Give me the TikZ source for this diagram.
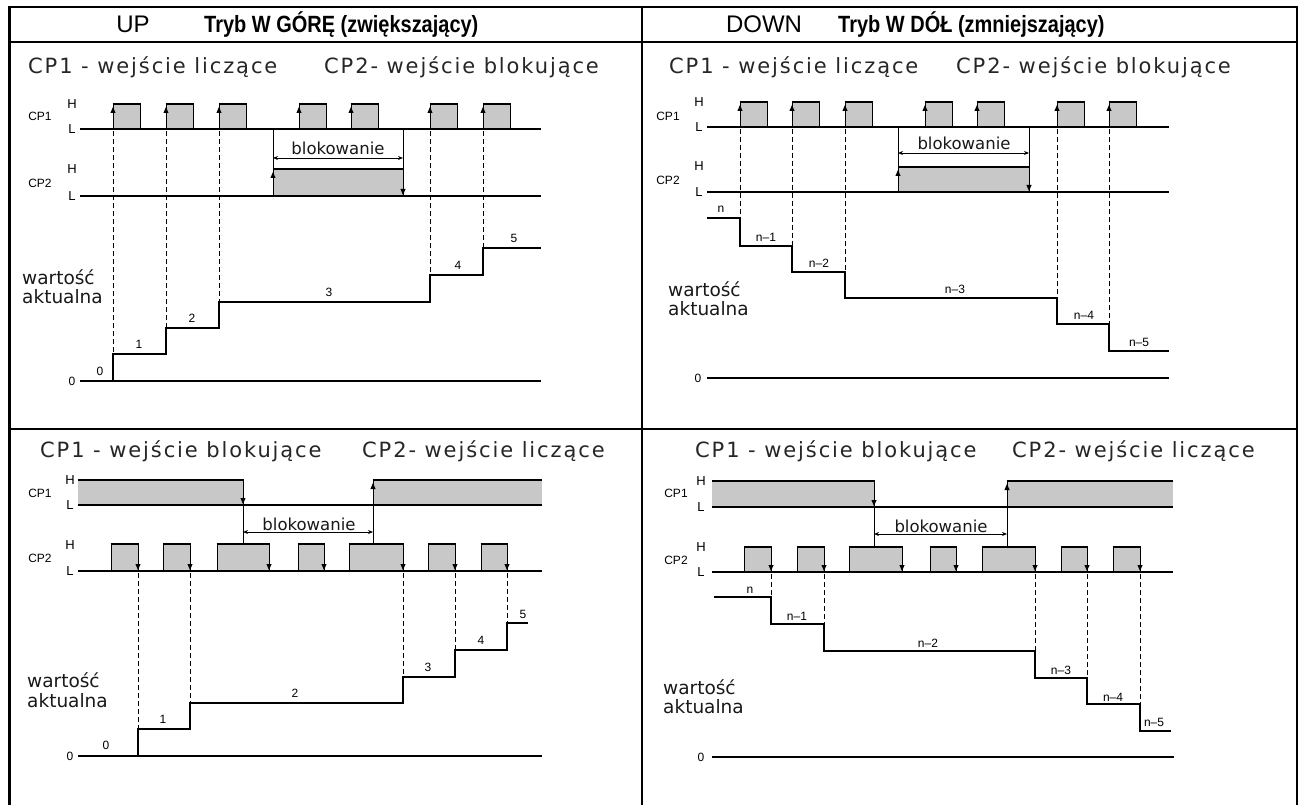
\documentclass[tikz,border=0pt]{standalone}
\usepackage{fontspec}
\setmainfont{Liberation Sans}
\newfontfamily\cpfont[LetterSpace=9]{DejaVu Sans}
\newfontfamily\djvfont{DejaVu Sans}
\usetikzlibrary{arrows.meta}
\definecolor{pulsefill}{RGB}{200,200,200}
\newcommand\uparr[2]{\fill ({#1},{#2}) -- ({#1-2.6},{#2+6}) -- ({#1+2.6},{#2+6}) -- cycle;}
\newcommand\dnarr[2]{\fill ({#1},{#2}) -- ({#1-2.6},{#2-6}) -- ({#1+2.6},{#2-6}) -- cycle;}
\newcommand\pulseR[4]{%
  \fill[pulsefill] ({#1},{#4}) rectangle ({#2},{#3});
  \draw[edgeln] ({#1},{#4}) -- ({#1},{#3}) ({#2},{#3}) -- ({#2},{#4});
  \draw[hiln] ({#1-0.5},{#3}) -- ({#2+0.5},{#3});
  \uparr{#1}{#3+3}}
\newcommand\pulseF[4]{%
  \fill[pulsefill] ({#1},{#4}) rectangle ({#2},{#3});
  \draw[edgeln] ({#1},{#4}) -- ({#1},{#3}) ({#2},{#3}) -- ({#2},{#4});
  \draw[hiln] ({#1-0.5},{#3}) -- ({#2+0.5},{#3});
  \dnarr{#2}{#4-1}}
\begin{document}
\begin{tikzpicture}[x=1pt,y=-1pt,
  framel/.style={line width=2pt},
  baseln/.style={line width=1.2pt},
  edgeln/.style={line width=1pt},
  hiln/.style={line width=2.8pt},
  stair/.style={line width=2.6pt},
  dashln/.style={line width=0.9pt, dash pattern=on 5pt off 3pt},
  blkarr/.style={line width=0.9pt, {Stealth[length=5pt,width=4pt]}-{Stealth[length=5pt,width=4pt]}},
  hdr/.style={font=\fontsize{24}{26}\selectfont, inner sep=0pt},
  ttl/.style={font=\fontsize{23.5}{26}\selectfont\bfseries, inner sep=0pt},
  cpt/.style={font=\cpfont\fontsize{21}{24}\selectfont, text=black!85, inner sep=0pt},
  val/.style={font=\djvfont\fontsize{18.5}{20}\selectfont, text=black!90, inner sep=0pt, anchor=west},
  blkt/.style={font=\djvfont\fontsize{16.5}{18}\selectfont, text=black!90, inner sep=0pt},
  lbl/.style={font=\fontsize{12}{12}\selectfont, inner sep=0pt},
  hl/.style={font=\fontsize{13}{13}\selectfont, inner sep=0pt},
]
\useasboundingbox (0,0) rectangle (1302,805);
\fill[white] (0,0) rectangle (1302,805);
% ---------- frame ----------
\draw[line width=3pt] (9,805) -- (9,7);
\draw[framel] (8,7) -- (1297,7) -- (1297,805);
\draw[framel] (9,42) -- (1297,42);
\draw[framel] (642,7) -- (642,805);
\draw[framel] (9,429) -- (1297,429);
% ---------- headers ----------
\node[hdr, anchor=base] (tlup) at (133,33) {UP};
\node[ttl, anchor=base west] (tltitle) at (204,33) {\scalebox{0.85}[1]{Tryb W GÓRĘ (zwiększający)}};
\node[hdr, anchor=base] (trdown) at (764,33) {DOWN};
\node[ttl, anchor=base west] (trtitle) at (838,33) {\scalebox{0.85}[1]{Tryb W DÓŁ (zmniejszający)}};
% ---------- panel captions ----------
\node[cpt, anchor=base west] (tlc1) at (28,74) {CP1 - wejście liczące};
\node[cpt, anchor=base west] (tlc2) at (324,74) {CP2- wejście blokujące};
\node[cpt, anchor=base west] (trc1) at (669,74) {CP1 - wejście liczące};
\node[cpt, anchor=base west] (trc2) at (956,74) {CP2- wejście blokujące};
\node[cpt, anchor=base west] (blc1) at (40,457) {CP1 - wejście blokujące};
\node[cpt, anchor=base west] (blc2) at (362,457) {CP2- wejście liczące};
\node[cpt, anchor=base west] (brc1) at (695,457) {CP1 - wejście blokujące};
\node[cpt, anchor=base west] (brc2) at (1012,457) {CP2- wejście liczące};

% ================= TOP LEFT (UP) =================
\node[lbl] (tlcp1) at (40,116) {CP1};
\node[hl] (tlh1) at (72,104) {H};
\node[hl] (tll1) at (72,129) {L};
\foreach \a in {113,166,219,299,351,430,483} {\pulseR{\a}{\a+27}{104}{129}}
\draw[baseln] (80,129) -- (541,129);
\node[lbl] (tlcp2) at (40,183) {CP2};
\node[hl] (tlh2) at (72,169) {H};
\node[hl] (tll2) at (72,196) {L};
\fill[pulsefill] (273,196) rectangle (403,169);
\draw[edgeln] (273,129) -- (273,196) (403,129) -- (403,196);
\draw[hiln] (272.5,169) -- (403.5,169);
\uparr{273}{172}
\dnarr{403}{195}
\draw[blkarr] (273,158) -- (403,158);
\node[blkt] (tlblk) at (338,148) {blokowanie};
\draw[baseln] (80,196) -- (541,196);
\draw[dashln] (113,131) -- (113,354) (166,131) -- (166,328) (219,131) -- (219,302)
  (430,131) -- (430,275) (483,131) -- (483,248);
\draw[baseln] (80,381) -- (541,381);
\draw[stair] (113,381) -- (113,354) -- (166,354) -- (166,328) -- (219,328) -- (219,302)
  -- (430,302) -- (430,275) -- (483,275) -- (483,248) -- (541,248);
\node[lbl] (tlz) at (72,381) {0};
\node[lbl] (tlv0) at (100,371) {0};
\node[lbl] (tlv1) at (139,344) {1};
\node[lbl] (tlv2) at (192,318) {2};
\node[lbl] (tlv3) at (329,292) {3};
\node[lbl] (tlv4) at (458,265) {4};
\node[lbl] (tlv5) at (514,238) {5};
\node[val] (tlw) at (22,277) {wartość};
\node[val] (tla) at (22,297) {aktualna};

% ================= TOP RIGHT (DOWN) =================
\node[lbl] (trcp1) at (668,116) {CP1};
\node[hl] (trh1) at (699,102) {H};
\node[hl] (trl1) at (699,127) {L};
\foreach \a in {740,792,845,925,977,1057,1109} {\pulseR{\a}{\a+27}{102}{127}}
\draw[baseln] (707,127) -- (1169,127);
\node[lbl] (trcp2) at (668,180) {CP2};
\node[hl] (trh2) at (699,166) {H};
\node[hl] (trl2) at (699,192) {L};
\fill[pulsefill] (898,192) rectangle (1029,167);
\draw[edgeln] (898,127) -- (898,192) (1029,127) -- (1029,192);
\draw[hiln] (897.5,167) -- (1029.5,167);
\uparr{898}{170}
\dnarr{1029}{191}
\draw[blkarr] (898,153) -- (1029,153);
\node[blkt] (trblk) at (964,143) {blokowanie};
\draw[baseln] (707,192) -- (1169,192);
\draw[dashln] (740,129) -- (740,218) (792,129) -- (792,246) (845,129) -- (845,272)
  (1057,129) -- (1057,298) (1109,129) -- (1109,324);
\draw[baseln] (707,378) -- (1169,378);
\draw[stair] (707,218) -- (740,218) -- (740,246) -- (792,246) -- (792,272) -- (845,272)
  -- (845,298) -- (1057,298) -- (1057,324) -- (1109,324) -- (1109,351) -- (1169,351);
\node[lbl] (trz) at (698,378) {0};
\node[lbl] (trv0) at (721,209) {n};
\node[lbl] (trv1) at (766,237) {n–1};
\node[lbl] (trv2) at (819,263) {n–2};
\node[lbl] (trv3) at (955,289) {n–3};
\node[lbl] (trv4) at (1084,315) {n–4};
\node[lbl] (trv5) at (1139,342) {n–5};
\node[val] (trw) at (668,289) {wartość};
\node[val] (tra) at (668,309) {aktualna};

% ================= BOTTOM LEFT (UP) =================
\node[lbl] (blcp1) at (40,493) {CP1};
\node[hl] (blh1) at (70,480) {H};
\node[hl] (bll1) at (70,505) {L};
\fill[pulsefill] (78,505) rectangle (243,480);
\fill[pulsefill] (373,505) rectangle (542,480);
\draw[hiln] (78,480) -- (243.5,480);
\draw[hiln] (372.5,480) -- (542,480);
\draw[edgeln] (243,480) -- (243,544) (373,544) -- (373,480);
\dnarr{243}{504}
\uparr{373}{483}
\draw[baseln] (78,505) -- (542,505);
\draw[blkarr] (243,532) -- (373,532);
\node[blkt] (blblk) at (309,524) {blokowanie};
\node[lbl] (blcp2) at (40,558) {CP2};
\node[hl] (blh2) at (70,545) {H};
\node[hl] (bll2) at (70,571) {L};
\foreach \a/\b in {111/138,163/190,217/269,298/324,349/403,428/455,481/507} {\pulseF{\a}{\b}{544}{571}}
\draw[baseln] (78,571) -- (542,571);
\draw[dashln] (138,573) -- (138,729) (190,573) -- (190,703) (403,573) -- (403,677)
  (455,573) -- (455,650) (507,573) -- (507,623);
\draw[baseln] (78,756) -- (542,756);
\draw[stair] (138,756) -- (138,729) -- (190,729) -- (190,703) -- (403,703) -- (403,677)
  -- (455,677) -- (455,650) -- (507,650) -- (507,623) -- (528,623);
\node[lbl] (blz) at (70,756) {0};
\node[lbl] (blv0) at (106,745) {0};
\node[lbl] (blv1) at (163,719) {1};
\node[lbl] (blv2) at (295,693) {2};
\node[lbl] (blv3) at (428,667) {3};
\node[lbl] (blv4) at (481,640) {4};
\node[lbl] (blv5) at (523,614) {5};
\node[val] (blw) at (27,680) {wartość};
\node[val] (bla) at (27,701) {aktualna};

% ================= BOTTOM RIGHT (DOWN) =================
\node[lbl] (brcp1) at (676,493) {CP1};
\node[hl] (brh1) at (701,481) {H};
\node[hl] (brl1) at (701,507) {L};
\fill[pulsefill] (712,507) rectangle (874,481);
\fill[pulsefill] (1007,507) rectangle (1173,481);
\draw[hiln] (712,481) -- (874.5,481);
\draw[hiln] (1006.5,481) -- (1173,481);
\draw[edgeln] (874,481) -- (874,547) (1007,547) -- (1007,481);
\dnarr{874}{506}
\uparr{1007}{484}
\draw[baseln] (712,507) -- (1173,507);
\draw[blkarr] (874,534) -- (1007,534);
\node[blkt] (brblk) at (941,526) {blokowanie};
\node[lbl] (brcp2) at (676,560) {CP2};
\node[hl] (brh2) at (701,547) {H};
\node[hl] (brl2) at (701,572) {L};
\foreach \a/\b in {744/771,797/824,849/902,930/956,982/1035,1061/1087,1113/1140} {\pulseF{\a}{\b}{547}{572}}
\draw[baseln] (712,572) -- (1173,572);
\draw[dashln] (771,574) -- (771,597) (824,574) -- (824,624) (1035,574) -- (1035,651)
  (1087,574) -- (1087,678) (1140,574) -- (1140,704);
\draw[baseln] (712,757) -- (1174,757);
\draw[stair] (714,597) -- (771,597) -- (771,624) -- (824,624) -- (824,651) -- (1035,651)
  -- (1035,678) -- (1087,678) -- (1087,704) -- (1140,704) -- (1140,731) -- (1171,731);
\node[lbl] (brz) at (701,757) {0};
\node[lbl] (brv0) at (750,590) {n};
\node[lbl] (brv1) at (797,616) {n–1};
\node[lbl] (brv2) at (928,643) {n–2};
\node[lbl] (brv3) at (1061,670) {n–3};
\node[lbl] (brv4) at (1113,697) {n–4};
\node[lbl] (brv5) at (1154,722) {n–5};
\node[val] (brw) at (663,687) {wartość};
\node[val] (bra) at (663,707) {aktualna};
\end{tikzpicture}
\end{document}
